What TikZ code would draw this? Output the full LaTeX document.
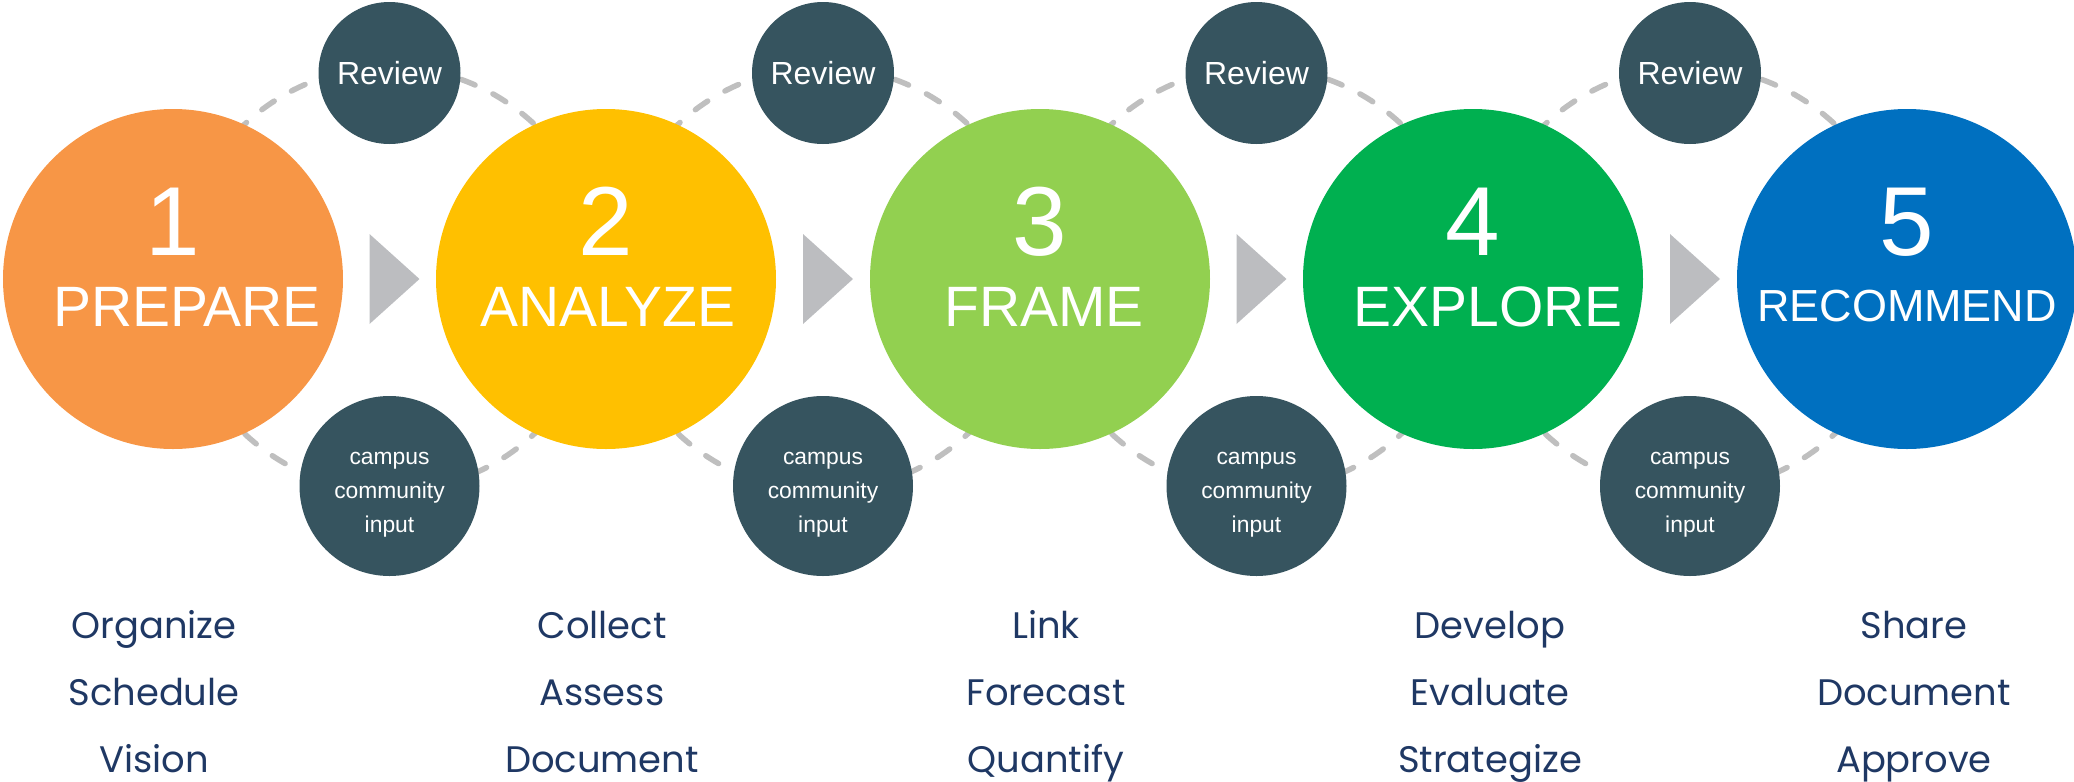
\documentclass[tikz,border=0pt]{standalone}
\usepackage{fontspec}
\setmainfont{Liberation Sans}
\newfontfamily\gothic{Poppins}
\definecolor{prepare}{HTML}{F79646}
\definecolor{analyze}{HTML}{FFC000}
\definecolor{frame}{HTML}{92D050}
\definecolor{explore}{HTML}{00B050}
\definecolor{recommend}{HTML}{0070C0}
\definecolor{slate}{HTML}{36545F}
\definecolor{ringgray}{HTML}{BFBFBF}
\definecolor{arrowgray}{HTML}{BCBDC0}
\definecolor{navy}{HTML}{1F3864}
\tikzset{
  phase/.style={circle, minimum size=3.4cm, inner sep=0pt},
  bubble/.style={circle, fill=slate, inner sep=0pt, text=white},
  ring/.style={draw=ringgray, line width=0.055cm, dash pattern=on 0.15cm off 0.2cm, line cap=round},
  pointer/.style={fill=arrowgray},
  numtext/.style={text=white, font=\fontsize{27.9}{28}\selectfont, anchor=base},
  nametext/.style={text=white, font=\fontsize{16.2}{17}\selectfont, anchor=base},
  camptext/.style={text=white, font=\fontsize{6.5}{9.65}\selectfont, align=center},
  tasktext/.style={text=navy, font=\gothic\fontsize{10.5}{19.05}\selectfont, align=center, anchor=base},
}
\begin{document}
\begin{tikzpicture}
\useasboundingbox (0,0) rectangle (20.74,7.81);
% dashed rings behind
\draw [ring] (3.895, 5.02) circle (2.12);
\draw [ring] (8.23, 5.02) circle (2.12);
\draw [ring] (12.565, 5.02) circle (2.12);
\draw [ring] (16.9, 5.02) circle (2.12);

% phases
\node [phase, fill=prepare] (p1) at (1.73, 5.02) {};
\node [phase, fill=analyze] (p2) at (6.06, 5.02) {};
\node [phase, fill=frame] (p3) at (10.4, 5.02) {};
\node [phase, fill=explore] (p4) at (14.73, 5.02) {};
\node [phase, fill=recommend] (p5) at (19.07, 5.02) {};
\node [numtext] (n1) at (1.73, 5.26) {1};
\node [numtext] (n2) at (6.06, 5.26) {2};
\node [numtext] (n3) at (10.4, 5.26) {3};
\node [numtext] (n4) at (14.73, 5.26) {4};
\node [numtext] (n5) at (19.07, 5.26) {5};
\node [nametext] (l1) at (1.87, 4.55) {PREPARE};
\node [nametext] (l2) at (6.08, 4.55) {ANALYZE};
\node [nametext] (l3) at (10.44, 4.55) {FRAME};
\node [nametext] (l4) at (14.88, 4.55) {EXPLORE};
\node [nametext, font=\fontsize{12.8}{13}\selectfont] (l5) at (19.07, 4.6) {RECOMMEND};

% review and input bubbles
\node [bubble, minimum size=1.42cm, font=\fontsize{9.1}{10}\selectfont] (r1) at (3.895, 7.08) {Review};
\node [bubble, minimum size=1.42cm, font=\fontsize{9.1}{10}\selectfont] (r2) at (8.23, 7.08) {Review};
\node [bubble, minimum size=1.42cm, font=\fontsize{9.1}{10}\selectfont] (r3) at (12.565, 7.08) {Review};
\node [bubble, minimum size=1.42cm, font=\fontsize{9.1}{10}\selectfont] (r4) at (16.9, 7.08) {Review};
\node [bubble, minimum size=1.8cm] (c1) at (3.895, 2.95) {};
\node [bubble, minimum size=1.8cm] (c2) at (8.23, 2.95) {};
\node [bubble, minimum size=1.8cm] (c3) at (12.565, 2.95) {};
\node [bubble, minimum size=1.8cm] (c4) at (16.9, 2.95) {};
\node [camptext] (i1) at (3.895, 2.865) {campus\\community\\input};
\node [camptext] (i2) at (8.23, 2.865) {campus\\community\\input};
\node [camptext] (i3) at (12.565, 2.865) {campus\\community\\input};
\node [camptext] (i4) at (16.9, 2.865) {campus\\community\\input};

% grey pointers
\fill [pointer] (3.695, 5.47) -- (4.195, 5.02) -- (3.695, 4.57) -- cycle;
\fill [pointer] (8.03, 5.47) -- (8.53, 5.02) -- (8.03, 4.57) -- cycle;
\fill [pointer] (12.365, 5.47) -- (12.865, 5.02) -- (12.365, 4.57) -- cycle;
\fill [pointer] (16.7, 5.47) -- (17.2, 5.02) -- (16.7, 4.57) -- cycle;

% tasks
\node [tasktext] (t1) at (1.54, 0.09) {Organize\\Schedule\\Vision};
\node [tasktext] (t2) at (6.02, 0.09) {Collect\\Assess\\Document};
\node [tasktext] (t3) at (10.46, 0.09) {Link\\Forecast\\Quantify};
\node [tasktext] (t4) at (14.9, 0.09) {Develop\\Evaluate\\Strategize};
\node [tasktext] (t5) at (19.14, 0.09) {Share\\Document\\Approve};
\end{tikzpicture}
\end{document}
